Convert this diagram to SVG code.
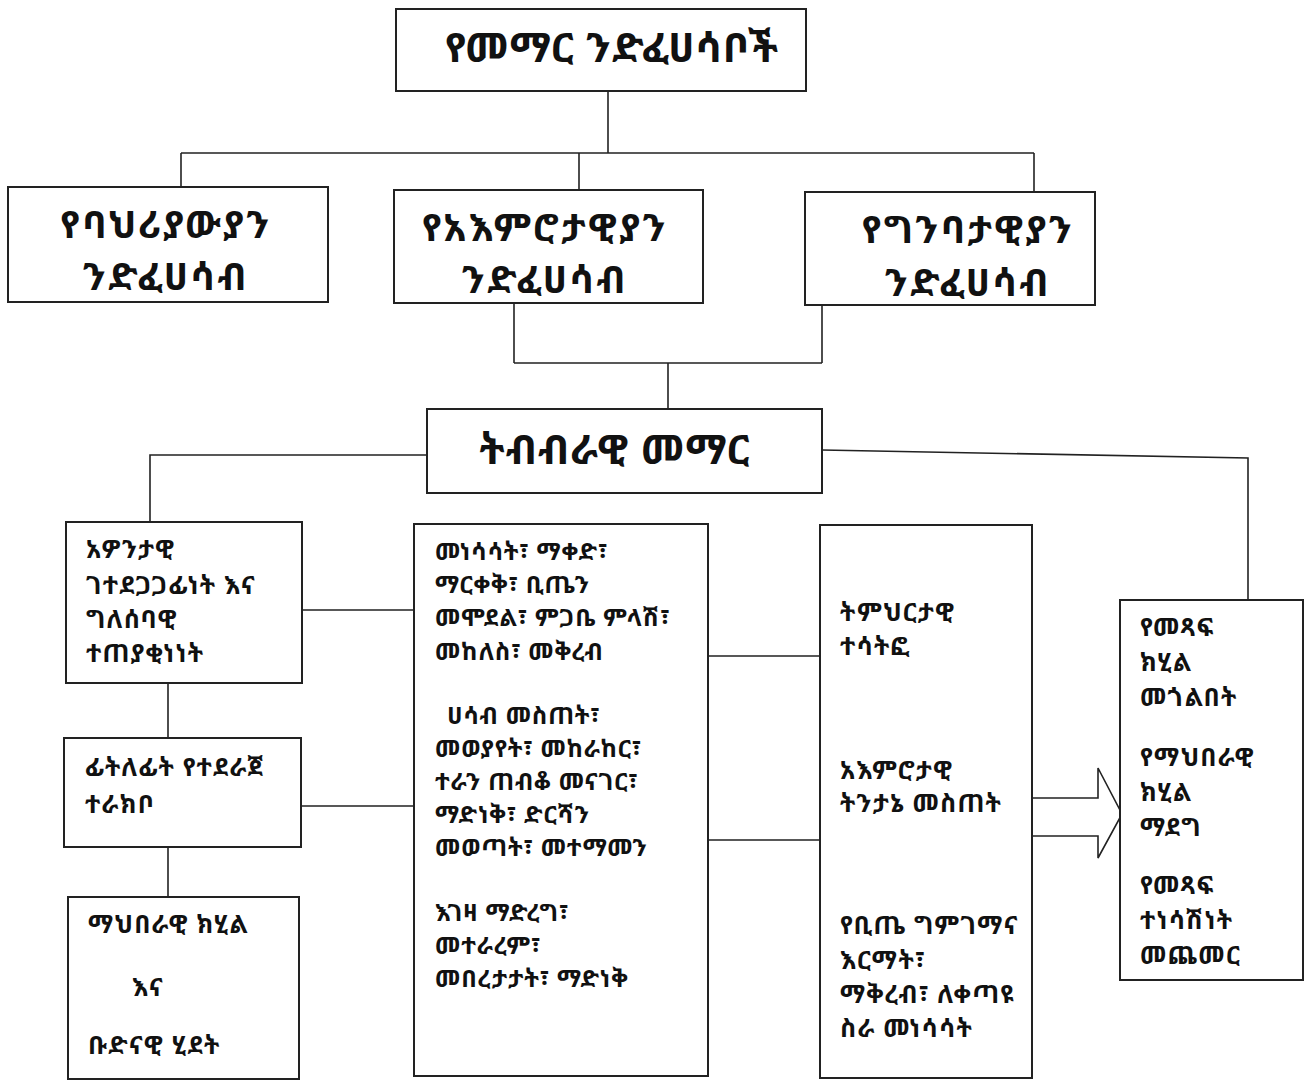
<svg xmlns="http://www.w3.org/2000/svg" width="1308" height="1082" viewBox="0 0 1308 1082">
<style>
.box{fill:#fff;stroke:#222;stroke-width:2}
.ln{fill:none;stroke:#222;stroke-width:1.6}
text{font-family:"Noto Sans Ethiopic","Noto Serif Ethiopic","Abyssinica SIL","Noto Sans","DejaVu Sans",sans-serif;fill:#111;font-weight:bold}
.big{font-size:41px;letter-spacing:1px}
.mid{font-size:38px;letter-spacing:2.5px}
.sm{font-size:25px;letter-spacing:1.2px}
.sm2{font-size:24px;letter-spacing:0.8px}
</style>
<rect width="1308" height="1082" fill="#fff"/>
<g id="connectors">
<path class="ln" d="M608 91V153M181 153H1034M181 153V187M579 153V190M1034 153V192"/>
<path class="ln" d="M514 303V363M822 305V363M514 363H822M668 363V409"/>
<path class="ln" d="M427 455H150V522M822 450L1248 458V600"/>
<path class="ln" d="M168 683V738M168 847V897"/>
<path class="ln" d="M302 610H414M301 806H414M708 656H820M708 840H820"/>
<path class="ln" d="M1032 798H1098V768L1122 814L1098 858V836H1032"/>
</g>
<g id="n-top"><rect class="box" x="396" y="9" width="410" height="82"/><text class="big" x="612" y="62" text-anchor="middle">የመማር ንድፈሀሳቦች</text></g>
<g id="n-beh"><rect class="box" x="8" y="187" width="320" height="115"/><text class="mid" x="166" y="238" text-anchor="middle">የባህሪያውያን</text><text class="mid" x="166" y="290" text-anchor="middle">ንድፈሀሳብ</text></g>
<g id="n-cog"><rect class="box" x="394" y="190" width="309" height="113"/><text class="mid" x="545" y="241" text-anchor="middle">የአእምሮታዊያን</text><text class="mid" x="545" y="293" text-anchor="middle">ንድፈሀሳብ</text></g>
<g id="n-con"><rect class="box" x="805" y="192" width="290" height="113"/><text class="mid" x="968" y="243" text-anchor="middle">የግንባታዊያን</text><text class="mid" x="968" y="296" text-anchor="middle">ንድፈሀሳብ</text></g>
<g id="n-coop"><rect class="box" x="427" y="409" width="395" height="84"/><text class="big" x="615" y="464" text-anchor="middle">ትብብራዊ መማር</text></g>
<g id="n-l1"><rect class="box" x="66" y="522" width="236" height="161"/>
<text class="sm" x="86" y="558">አዎንታዊ</text><text class="sm" x="86" y="594">ገተደጋጋፊነት እና</text><text class="sm" x="86" y="628">ግለሰባዊ</text><text class="sm" x="86" y="662">ተጠያቂነነት</text></g>
<g id="n-l2"><rect class="box" x="64" y="738" width="237" height="109"/>
<text class="sm" x="85" y="776">ፊትለፊት የተደራጀ</text><text class="sm" x="85" y="813">ተራክቦ</text></g>
<g id="n-l3"><rect class="box" x="68" y="897" width="231" height="182"/>
<text class="sm" x="88" y="933">ማህበራዊ ክሂል</text><text class="sm" x="132" y="996">እና</text><text class="sm" x="88" y="1054">ቡድናዊ ሂደት</text></g>
<g id="n-mid"><rect class="box" x="414" y="524" width="294" height="552"/>
<text class="sm2" x="435" y="560">መነሳሳት፣ ማቀድ፣</text>
<text class="sm2" x="435" y="593">ማርቀቅ፣ ቢጤን</text>
<text class="sm2" x="435" y="626">መሞደል፣ ምጋቤ ምላሽ፣</text>
<text class="sm2" x="435" y="660">መከለስ፣ መቅረብ</text>
<text class="sm2" x="447" y="724">ሀሳብ መስጠት፣</text>
<text class="sm2" x="435" y="757">መወያየት፣ መከራከር፣</text>
<text class="sm2" x="435" y="790">ተራን ጠብቆ መናገር፣</text>
<text class="sm2" x="435" y="823">ማድነቅ፣ ድርሻን</text>
<text class="sm2" x="435" y="856">መወጣት፣ መተማመን</text>
<text class="sm2" x="435" y="921">እገዛ ማድረግ፣</text>
<text class="sm2" x="435" y="954">መተራረም፣</text>
<text class="sm2" x="435" y="987">መበረታታት፣ ማድነቅ</text></g>
<g id="n-out"><rect class="box" x="820" y="525" width="212" height="553"/>
<text class="sm" x="840" y="621">ትምህርታዊ</text><text class="sm" x="840" y="655">ተሳትፎ</text>
<text class="sm" x="840" y="779">አእምሮታዊ</text><text class="sm" x="840" y="812">ትንታኔ መስጠት</text>
<text class="sm" x="840" y="934">የቢጤ ግምገማና</text><text class="sm" x="840" y="969">እርማት፣</text><text class="sm" x="840" y="1003">ማቅረብ፣ ለቀጣዩ</text><text class="sm" x="840" y="1037">ስራ መነሳሳት</text></g>
<g id="n-res"><rect class="box" x="1120" y="600" width="183" height="380"/>
<text class="sm" x="1140" y="636">የመጻፍ</text><text class="sm" x="1140" y="671">ክሂል</text><text class="sm" x="1140" y="706">መጎልበት</text>
<text class="sm" x="1140" y="766">የማህበራዊ</text><text class="sm" x="1140" y="801">ክሂል</text><text class="sm" x="1140" y="836">ማደግ</text>
<text class="sm" x="1140" y="894">የመጻፍ</text><text class="sm" x="1140" y="929">ተነሳሽነት</text><text class="sm" x="1140" y="964">መጨመር</text></g>
</svg>
